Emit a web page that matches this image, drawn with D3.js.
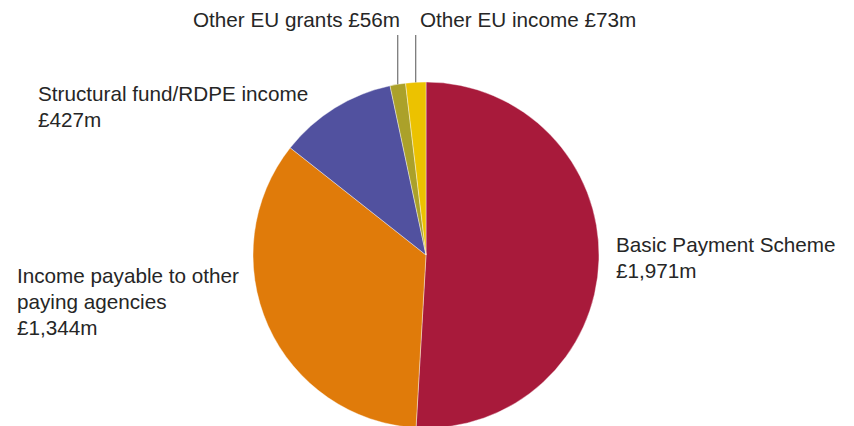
<!DOCTYPE html>
<html>
<head>
<meta charset="utf-8">
<script src="https://cdn.jsdelivr.net/npm/d3@7"></script>
<style>
  html, body { margin: 0; padding: 0; background: #fff; }
  svg { display: block; }
  text { font-family: "Liberation Sans", Arial, Helvetica, sans-serif; fill: #262626; }
</style>
</head>
<body>
<svg id="chart" width="854" height="426"></svg>
<script>
// EU income sources (£m), clockwise from 12 o'clock
const categories = [
  "Basic Payment Scheme",
  "Income payable to other paying agencies",
  "Structural fund/RDPE income",
  "Other EU grants",
  "Other EU income"
];
const values = [1971, 1344, 427, 56, 73];
const colors = ["#a81a3b", "#e07b0a", "#51519f", "#aba12a", "#ecc200"];

// Label text lines per slice
const labelLines = [
  ["Basic Payment Scheme", "£1,971m"],
  ["Income payable to other", "paying agencies", "£1,344m"],
  ["Structural fund/RDPE income", "£427m"],
  ["Other EU grants £56m"],
  ["Other EU income £73m"]
];

const svg = d3.select("#chart");
const cx = 426, cy = 255, r = 173;

const data = categories.map((c, i) => ({ name: c, value: values[i], color: colors[i], lines: labelLines[i] }));

const pie = d3.pie().value(d => d.value).sort(null);
const arcs = pie(data);
const arc = d3.arc().innerRadius(0).outerRadius(r);

const g = svg.append("g").attr("transform", `translate(${cx},${cy})`);

g.selectAll("path.slice")
  .data(arcs)
  .join("path")
  .attr("class", "slice")
  .attr("d", arc)
  .attr("fill", d => d.data.color)
  .attr("stroke", "#fff")
  .attr("stroke-width", 0.4);

// Label anchors (first baseline), line spacing
const fontSize = 20.7;
const lineH = 26;
const labelPos = [
  { x: 616, y: 252 },
  { x: 17, y: 283 },
  { x: 38, y: 101 },
  { x: 193, y: 27 },
  { x: 420, y: 27 }
];

arcs.forEach((a, i) => {
  const p = labelPos[i];
  const t = svg.append("text")
    .attr("x", p.x)
    .attr("y", p.y)
    .style("font-size", fontSize + "px");
  a.data.lines.forEach((ln, k) => {
    t.append("tspan").attr("x", p.x).attr("y", p.y + k * lineH).text(ln);
  });
});

// Vertical leader lines for the two thin slices
[3, 4].forEach(i => {
  const a = arcs[i];
  const mid = (a.startAngle + a.endAngle) / 2;
  const x = cx + Math.sin(mid) * r;
  const yEdge = cy - Math.cos(mid) * r;
  svg.append("line")
    .attr("x1", x).attr("x2", x)
    .attr("y1", 35).attr("y2", yEdge)
    .attr("stroke", "#555")
    .attr("stroke-width", 1);
});
</script>
</body>
</html>
